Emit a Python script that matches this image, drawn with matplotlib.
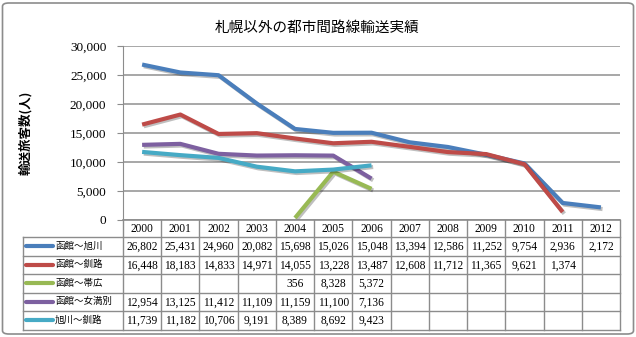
import numpy as np
import matplotlib
matplotlib.use('Agg')
import matplotlib.pyplot as plt
from matplotlib.patches import FancyBboxPatch
import matplotlib.patheffects as pe

years = ['2000', '2001', '2002', '2003', '2004', '2005', '2006',
         '2007', '2008', '2009', '2010', '2011', '2012']
routes = ['函館～旭川', '函館～釧路', '函館～帯広', '函館～女満別', '旭川～釧路']
hakodate_asahikawa = [26802, 25431, 24960, 20082, 15698, 15026, 15048,
                      13394, 12586, 11252, 9754, 2936, 2172]
hakodate_kushiro = [16448, 18183, 14833, 14971, 14055, 13228, 13487,
                    12608, 11712, 11365, 9621, 1374, None]
hakodate_obihiro = [None, None, None, None, 356, 8328, 5372,
                    None, None, None, None, None, None]
hakodate_memanbetsu = [12954, 13125, 11412, 11109, 11159, 11100, 7136,
                       None, None, None, None, None, None]
asahikawa_kushiro = [11739, 11182, 10706, 9191, 8389, 8692, 9423,
                     None, None, None, None, None, None]
series = [hakodate_asahikawa, hakodate_kushiro, hakodate_obihiro,
          hakodate_memanbetsu, asahikawa_kushiro]
colors = ['#4A7EBB', '#BE4B48', '#98B954', '#7D60A0', '#46AAC5']
yticks = [0, 5000, 10000, 15000, 20000, 25000, 30000]

W, H = 636, 337
serif = 'Liberation Serif'
jp = ['Noto Sans CJK JP', 'DejaVu Sans']

fig = plt.figure(figsize=(W / 100, H / 100), dpi=100)
fig.patch.set_facecolor('white')

# outer chart frame
fig.patches.append(FancyBboxPatch((2.5 / W, 3 / H), (W - 5) / W, (H - 6) / H,
                                  boxstyle='round,pad=0,rounding_size=0.01',
                                  transform=fig.transFigure, fill=False,
                                  edgecolor='#8C8C8C', linewidth=1.2))

# plot area in pixels
x0, x1, y_top, y_zero = 123, 620, 46, 220
ax = fig.add_axes([x0 / W, 1 - y_zero / H, (x1 - x0) / W, (y_zero - y_top) / H])
n = len(years)
xs = np.arange(n)
for vals, c in zip(series, colors):
    y = np.array([np.nan if v is None else v for v in vals], dtype=float)
    ax.plot(xs, y, color=c, lw=3.0, solid_capstyle='butt', zorder=3,
            path_effects=[pe.SimpleLineShadow(offset=(1.2, -1.2), alpha=0.25),
                          pe.Normal()])

ax.set_xlim(-0.5, n - 0.5)
ax.set_ylim(0, 30000)
ax.set_yticks(yticks)
ax.set_yticklabels([f'{t:,}' for t in yticks], fontfamily=serif, fontsize=9.5)
ax.set_xticks([])
ax.yaxis.grid(True, color='#A0A0A0', lw=1.3)
ax.set_axisbelow(True)
for s in ['top', 'right', 'bottom']:
    ax.spines[s].set_visible(False)
ax.spines['left'].set_color('#8C8C8C')
ax.tick_params(axis='y', direction='out', length=4, color='#8C8C8C', pad=8)
ax.set_ylabel('輸送旅客数(人)', family=jp, fontsize=9, fontweight='bold')
ax.yaxis.set_label_coords(-(x0 - 32) / (x1 - x0), 0.5)

fig.text(317 / W, 1 - 27.5 / H, '札幌以外の都市間路線輸送実績', family=jp,
         fontsize=10.5, ha='center', va='center')

# data table below the plot
leg_left = 23
colw = (x1 - x0) / n
legw = (x0 - leg_left) / colw
t_bottom = 329.5
tab = fig.add_axes([leg_left / W, 1 - t_bottom / H, (x1 - leg_left) / W, (t_bottom - y_zero) / H])
tab.set_xlim(-0.5 - legw, n - 0.5)
tab.set_ylim(t_bottom - y_zero, 0)
tab.axis('off')
head_h = 17
row_h = (t_bottom - y_zero - head_h) / len(routes)
grid_c = '#8C8C8C'
tab.plot([-0.5, n - 0.5], [0, 0], color=grid_c, lw=1.2, clip_on=False)
tab.plot([-0.5 - legw, n - 0.5], [head_h, head_h], color=grid_c, lw=1, clip_on=False)
for k in range(len(routes)):
    yb = head_h + (k + 1) * row_h
    tab.plot([-0.5 - legw, n - 0.5], [yb, yb], color=grid_c, lw=1, clip_on=False)
for k in range(n + 1):
    tab.plot([k - 0.5, k - 0.5], [0, t_bottom - y_zero], color=grid_c, lw=1, clip_on=False)
tab.plot([-0.5 - legw] * 2, [head_h, t_bottom - y_zero], color=grid_c, lw=1, clip_on=False)

for i, yr in enumerate(years):
    tab.text(i, head_h / 2 + 0.5, yr, ha='center', va='center', family=serif, fontsize=8.3)
for r, (name, vals, c) in enumerate(zip(routes, series, colors)):
    yc = head_h + (r + 0.5) * row_h
    lx0 = -0.5 - legw + 3 / colw
    tab.plot([lx0, lx0 + 27 / colw], [yc, yc], color=c, lw=3.0, solid_capstyle='round')
    tab.text(lx0 + 29 / colw, yc, name, ha='left', va='center', family=jp, fontsize=6.8)
    for i, v in enumerate(vals):
        if v is not None:
            tab.text(i, yc + 0.5, f'{v:,}', ha='center', va='center', family=serif, fontsize=8.3)

fig.savefig('out.png', dpi=100, facecolor='white')
